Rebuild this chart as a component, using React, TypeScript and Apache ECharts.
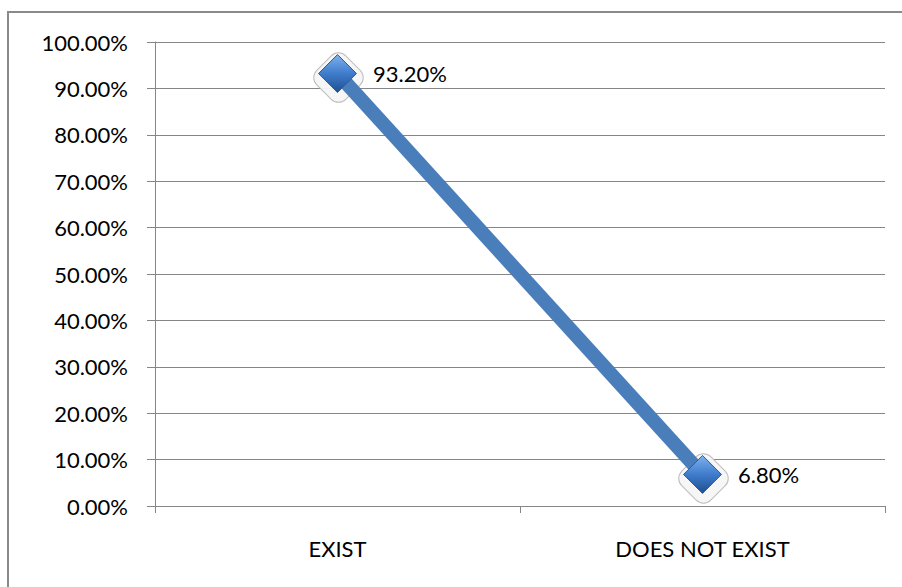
import React, { useEffect, useRef } from "react";
import * as echarts from "echarts";

const categories = ["EXIST", "DOES NOT EXIST"];
const values = [93.2, 6.8];
const yMin = 0;
const yMax = 100;
const yInterval = 10;

const FONT = "Lato";

export default function App() {
  const ref = useRef<HTMLDivElement>(null);
  useEffect(() => {
    if (!ref.current) return;
    const chart = echarts.init(ref.current, undefined, { renderer: "svg" });
    chart.setOption({
      animation: false,
      backgroundColor: "#ffffff",
      grid: { left: 155, right: 17, top: 42, bottom: 81, containLabel: false },
      graphic: [
        {
          type: "rect",
          shape: { x: 8, y: 12, width: 1000, height: 1000 },
          style: { fill: "none", stroke: "#8a8a8a", lineWidth: 2 },
          silent: true,
        },
      ],
      xAxis: {
        type: "category",
        data: categories,
        boundaryGap: true,
        axisLine: { show: true, lineStyle: { color: "#868686", width: 1 } },
        axisTick: { show: true, length: 7, lineStyle: { color: "#868686" } },
        axisLabel: { margin: 31, color: "#000", fontFamily: FONT, fontSize: 22 },
        splitLine: { show: false },
      },
      yAxis: {
        type: "value",
        min: yMin,
        max: yMax,
        interval: yInterval,
        axisLine: { show: true, lineStyle: { color: "#868686", width: 1 } },
        axisTick: { show: true, length: 8, lineStyle: { color: "#868686" } },
        axisLabel: {
          margin: 27,
          color: "#000",
          fontFamily: FONT,
          fontSize: 22,
          formatter: (v: number) => v.toFixed(2) + "%",
        },
        splitLine: { show: true, lineStyle: { color: "#868686", width: 1 } },
      },
      series: [
        {
          name: "halo",
          type: "line",
          data: values,
          z: 1,
          silent: true,
          lineStyle: { width: 0, opacity: 0 },
          symbol: "roundRect",
          symbolSize: 41,
          symbolRotate: 45,
          symbolOffset: [1, 4],
          itemStyle: {
            color: "rgba(246,246,246,0.95)",
            borderColor: "#bdbdbd",
            borderWidth: 1,
          },
          label: { show: false },
        },
        {
          name: "main",
          type: "line",
          data: values,
          z: 2,
          lineStyle: { color: "#4a7ebb", width: 14 },
          symbol: "diamond",
          symbolSize: 38,
          itemStyle: {
            color: new echarts.graphic.LinearGradient(0, 0, 0, 1, [
              { offset: 0, color: "#7fb2ee" },
              { offset: 0.5, color: "#3f7ccc" },
              { offset: 1, color: "#1f4f8f" },
            ]),
            borderColor: "#2c5d9a",
            borderWidth: 1,
          },
          label: {
            show: true,
            position: "right",
            distance: 16,
            color: "#000",
            fontFamily: FONT,
            fontSize: 22,
            formatter: (p: any) => Number(p.value).toFixed(2) + "%",
          },
        },
      ],
    });
    return () => chart.dispose();
  }, []);
  return (
    <div
      ref={ref}
      style={{ position: "fixed", left: 0, top: 0, width: 902, height: 587, background: "#fff" }}
    />
  );
}
